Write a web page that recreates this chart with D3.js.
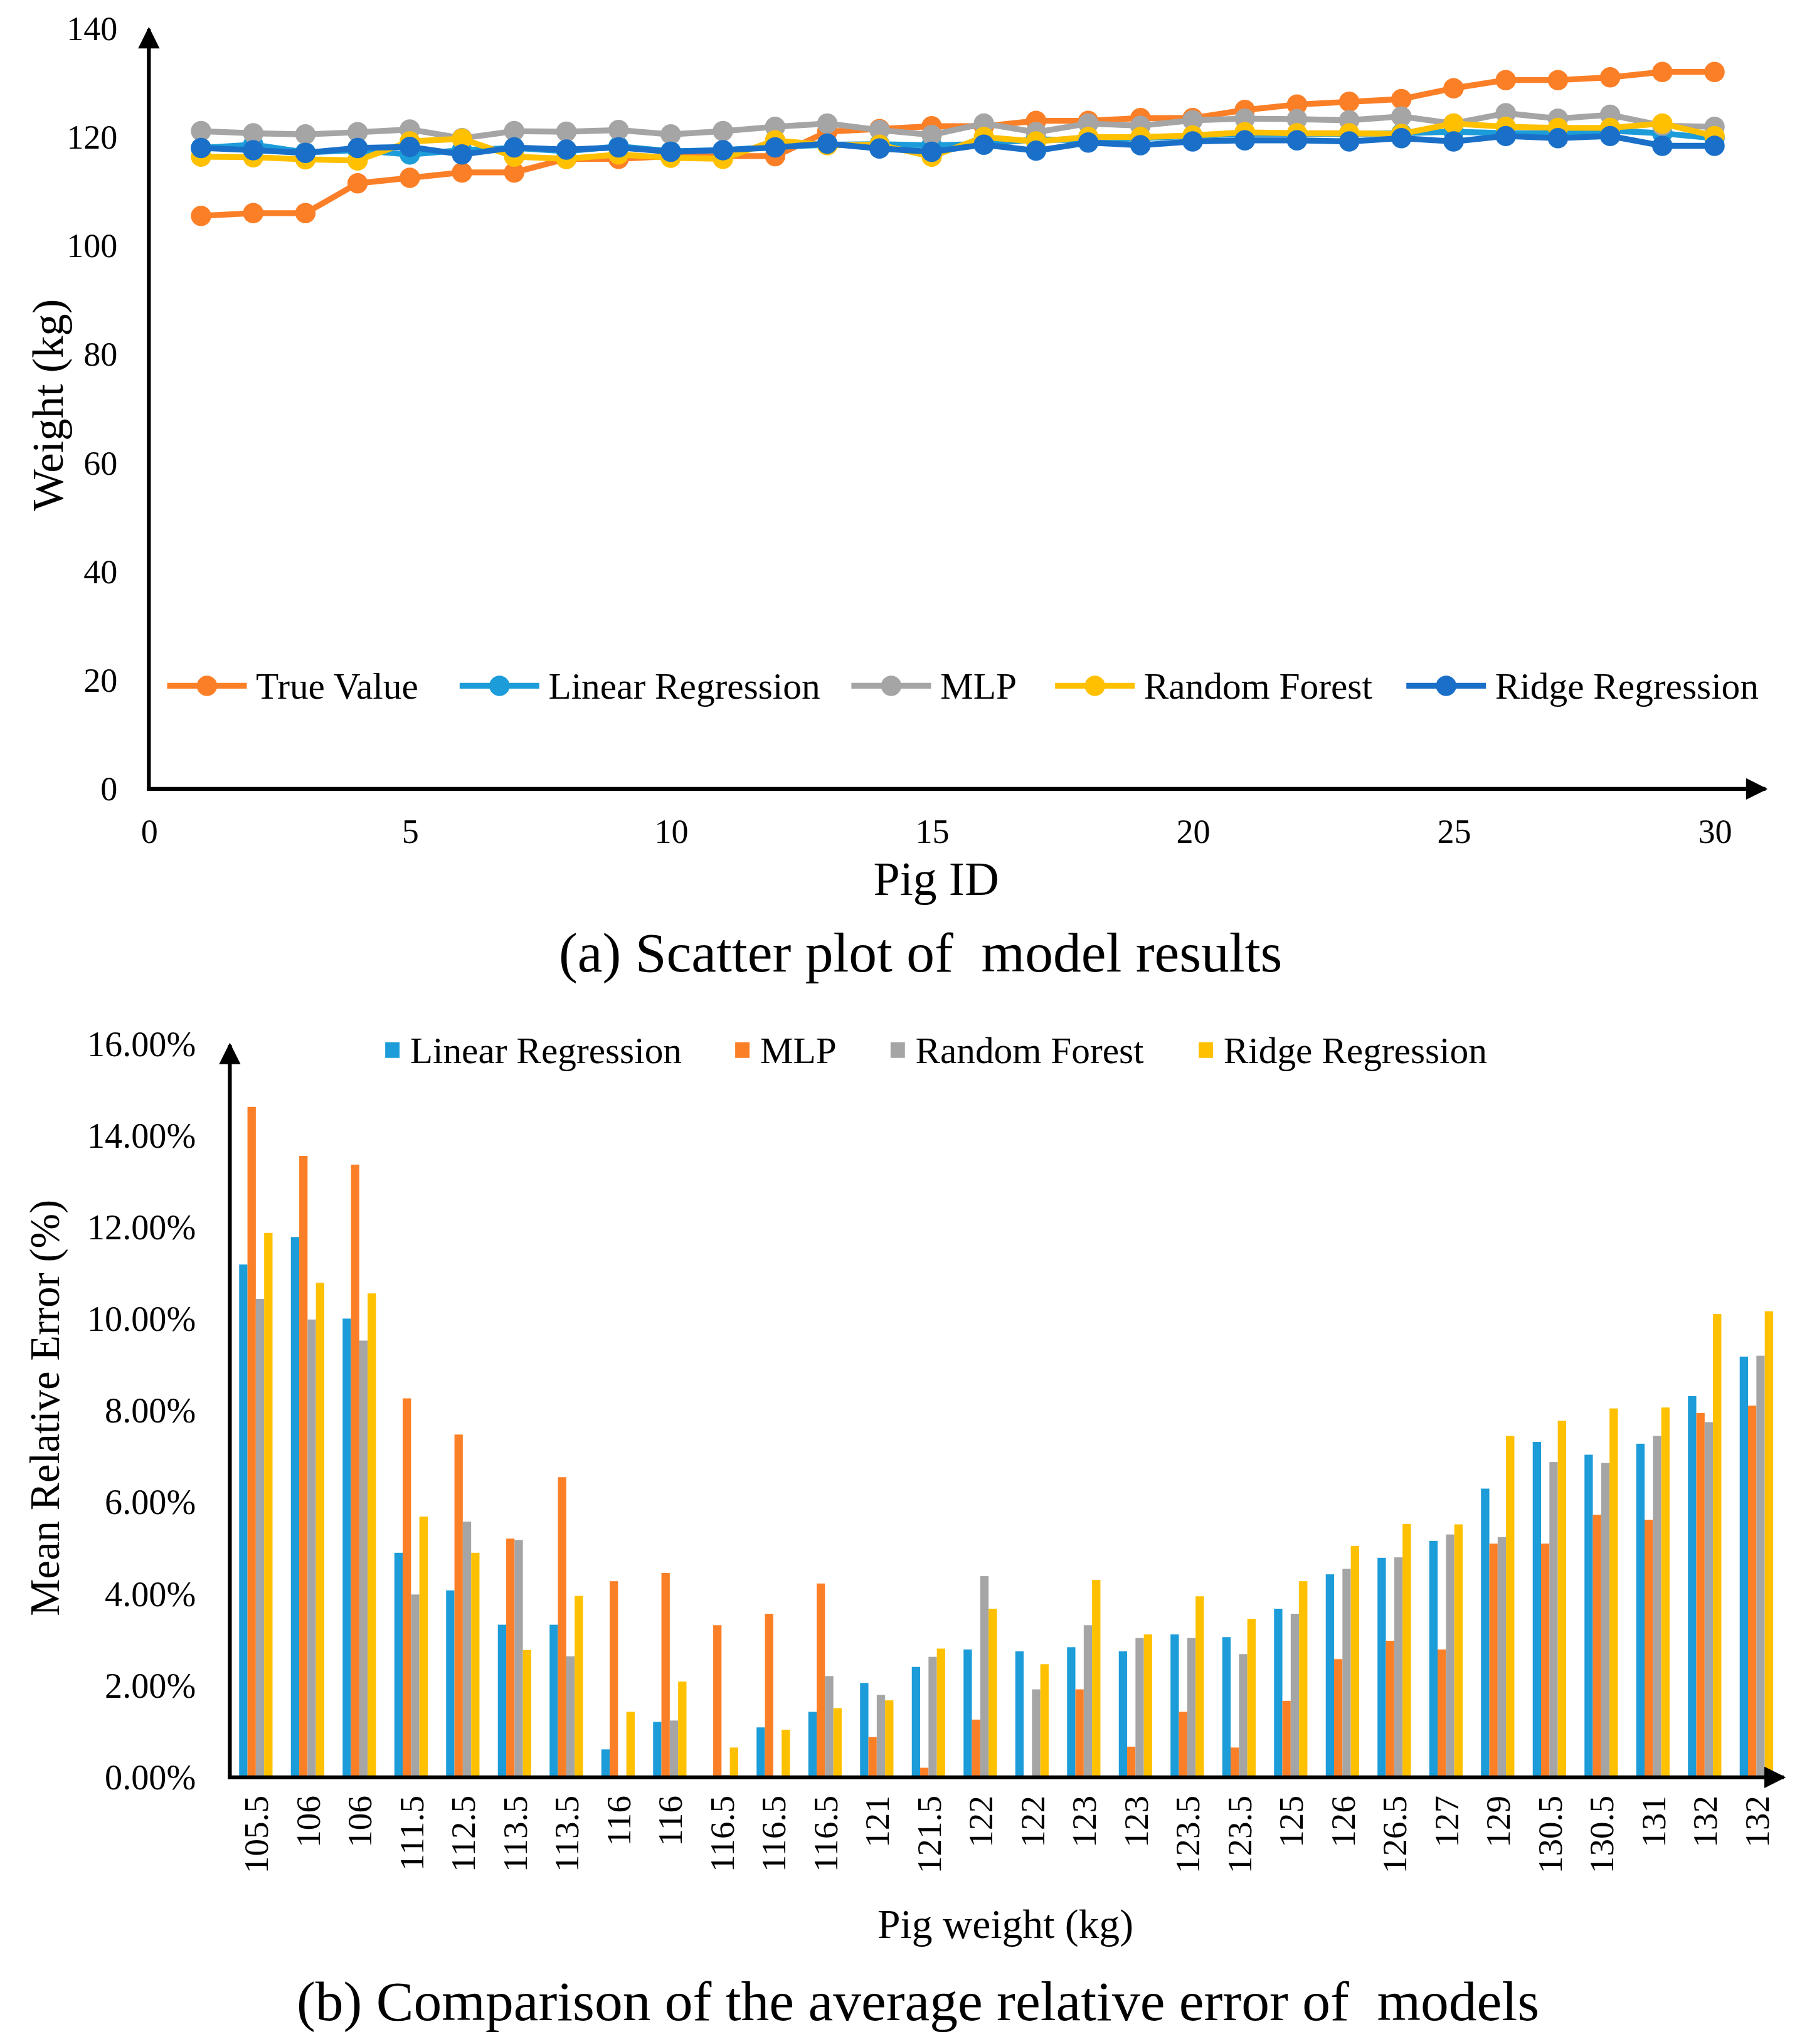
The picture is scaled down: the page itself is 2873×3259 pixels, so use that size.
<!DOCTYPE html>
<html>
<head>
<meta charset="utf-8">
<script src="https://cdn.jsdelivr.net/npm/d3@7"></script>
<style>
  html, body { margin: 0; padding: 0; background: #fff; }
  svg { display: block; font-family: 'Liberation Serif', 'Times New Roman', serif; }
</style>
</head>
<body>
<div id="chart"></div>
<script>
// top chart: predictions per pig
const pigIds = d3.range(1, 31)
const trueValue = [105.5, 106, 106, 111.5, 112.5, 113.5, 113.5, 116, 116, 116.5, 116.5, 116.5, 121, 121.5, 122, 122, 123, 123, 123.5, 123.5, 125, 126, 126.5, 127, 129, 130.5, 130.5, 131, 132, 132]
const linearReg = [118.0, 118.6, 117.2, 117.6, 116.8, 117.6, 118.0, 117.4, 118.3, 117.4, 117.6, 118.2, 118.6, 118.7, 118.5, 118.7, 119.6, 119.4, 119.8, 120.2, 120.6, 120.6, 120.6, 120.7, 121.0, 120.7, 120.7, 121.2, 120.7, 119.8]
const mlp = [121.1, 120.7, 120.5, 120.9, 121.4, 119.8, 121.1, 121.0, 121.3, 120.5, 121.1, 121.9, 122.5, 121.3, 120.4, 122.5, 120.9, 122.5, 122.1, 123.1, 123.4, 123.3, 123.1, 123.8, 122.5, 124.4, 123.4, 124.1, 122.1, 121.9]
const randomForest = [116.4, 116.3, 115.9, 115.7, 119.2, 119.7, 116.4, 116.0, 116.8, 116.2, 116.0, 119.4, 118.5, 118.6, 116.4, 120.0, 119.2, 120.0, 120.0, 120.3, 120.9, 120.7, 120.7, 120.6, 122.5, 121.9, 121.7, 121.7, 122.5, 120.2]
const ridgeReg = [118.0, 117.6, 117.1, 118.0, 118.2, 116.8, 118.1, 117.7, 118.1, 117.3, 117.6, 118.1, 118.8, 117.9, 117.3, 118.6, 117.5, 119.0, 118.5, 119.2, 119.4, 119.4, 119.2, 119.8, 119.2, 120.2, 119.8, 120.2, 118.4, 118.4]
const weightTicks = [0, 20, 40, 60, 80, 100, 120, 140]
const idTicks = [0, 5, 10, 15, 20, 25, 30]

// bottom chart: relative error (%) sorted by true weight
const weightLabels = ['105.5', '106', '106', '111.5', '112.5', '113.5', '113.5', '116', '116', '116.5', '116.5', '116.5', '121', '121.5', '122', '122', '123', '123', '123.5', '123.5', '125', '126', '126.5', '127', '129', '130.5', '130.5', '131', '132', '132']
const errLinear = [11.19, 11.79, 10.01, 4.90, 4.08, 3.33, 3.33, 0.61, 1.21, 0.02, 1.09, 1.43, 2.06, 2.41, 2.79, 2.75, 2.84, 2.75, 3.12, 3.06, 3.68, 4.43, 4.79, 5.16, 6.30, 7.32, 7.04, 7.28, 8.32, 9.18]
const errMlp = [14.63, 13.56, 13.37, 8.27, 7.48, 5.21, 6.55, 4.28, 4.46, 3.32, 3.57, 4.23, 0.88, 0.21, 1.26, 0.03, 1.92, 0.67, 1.43, 0.65, 1.67, 2.58, 2.98, 2.79, 5.10, 5.10, 5.73, 5.62, 7.95, 8.11]
const errForest = [10.44, 9.99, 9.53, 3.99, 5.58, 5.18, 2.64, 0.03, 1.24, 0.05, 0.04, 2.21, 1.80, 2.63, 4.39, 1.92, 3.32, 3.04, 3.04, 2.69, 3.57, 4.55, 4.80, 5.30, 5.24, 6.88, 6.86, 7.45, 7.75, 9.20]
const errRidge = [11.88, 10.79, 10.56, 5.69, 4.90, 2.78, 3.96, 1.43, 2.09, 0.65, 1.04, 1.51, 1.68, 2.81, 3.68, 2.47, 4.31, 3.12, 3.95, 3.46, 4.28, 5.05, 5.53, 5.52, 7.45, 7.78, 8.05, 8.07, 10.11, 10.17]
const errTicks = [0, 2, 4, 6, 8, 10, 12, 14, 16]

const W = 1380, H = 1565
const FONT = 'Liberation Serif'

const svg = d3.select('#chart')
  .append('svg')
  .attr('width', 2873)
  .attr('height', 3259)
  .attr('viewBox', `0 0 ${W} ${H}`)

// arrow head
svg.append('defs').append('marker')
  .attr('id', 'arrow')
  .attr('viewBox', '0 0 10 10')
  .attr('refX', 9).attr('refY', 5)
  .attr('markerWidth', 6.5).attr('markerHeight', 5.5)
  .attr('markerUnits', 'strokeWidth')
  .attr('orient', 'auto')
  .append('path')
  .attr('d', 'M0,0 L10,5 L0,10 Z')
  .attr('fill', '#000')

function axisArrow(x1, y1, x2, y2) {
  svg.append('line')
    .attr('x1', x1).attr('y1', y1)
    .attr('x2', x2).attr('y2', y2)
    .attr('stroke', '#000')
    .attr('stroke-width', 3)
    .attr('marker-end', 'url(#arrow)')
}

// ---------- (a) line chart ----------
const topSeries = [
  { name: 'True Value', values: trueValue, color: '#FB7F27' },
  { name: 'Linear Regression', values: linearReg, color: '#1C9CD8' },
  { name: 'MLP', values: mlp, color: '#A5A5A5' },
  { name: 'Random Forest', values: randomForest, color: '#FFC000' },
  { name: 'Ridge Regression', values: ridgeReg, color: '#1A70C8' }
]

const x1 = d3.scaleLinear().domain([0, 30]).range([114, 1313])
const y1 = d3.scaleLinear().domain([0, 140]).range([604, 21.6])

const gA = svg.append('g')

gA.append('g')
  .attr('transform', 'translate(114,0)')
  .call(d3.axisLeft(y1).tickValues(weightTicks).tickSize(0).tickPadding(24))
  .call(g => g.select('.domain').remove())
  .selectAll('text')
  .attr('font-family', FONT)
  .attr('font-size', 26)
  .attr('fill', '#000')

gA.append('g')
  .attr('transform', 'translate(0,604)')
  .call(d3.axisBottom(x1).tickValues(idTicks).tickSize(0).tickPadding(23))
  .call(g => g.select('.domain').remove())
  .selectAll('text')
  .attr('font-family', FONT)
  .attr('font-size', 26)
  .attr('fill', '#000')

axisArrow(114, 605, 114, 22)
axisArrow(112.5, 604, 1352, 604)

const line = d3.line()
  .x((d, i) => x1(pigIds[i]))
  .y(d => y1(d))

topSeries.forEach(s => {
  const g = gA.append('g')
  g.append('path')
    .attr('d', line(s.values))
    .attr('fill', 'none')
    .attr('stroke', s.color)
    .attr('stroke-width', 4.5)
    .attr('stroke-linejoin', 'round')
  g.selectAll('circle')
    .data(s.values)
    .join('circle')
    .attr('cx', (d, i) => x1(pigIds[i]))
    .attr('cy', d => y1(d))
    .attr('r', 7.8)
    .attr('fill', s.color)
})

// legend (a)
const legA = [128, 352, 652, 808, 1077]
topSeries.forEach((s, i) => {
  const g = gA.append('g').attr('transform', `translate(${legA[i]},525)`)
  g.append('line').attr('x1', 0).attr('x2', 61)
    .attr('stroke', s.color).attr('stroke-width', 4.5)
  g.append('circle').attr('cx', 30.5).attr('r', 7.8).attr('fill', s.color)
  g.append('text')
    .attr('x', 68).attr('dy', '0.35em')
    .attr('font-size', 28.5)
    .text(s.name)
})

gA.append('text')
  .attr('transform', 'translate(48,310) rotate(-90)')
  .attr('text-anchor', 'middle')
  .attr('font-size', 34)
  .text('Weight (kg)')

gA.append('text')
  .attr('x', 717).attr('y', 685)
  .attr('text-anchor', 'middle')
  .attr('font-size', 36.5)
  .text('Pig ID')

gA.append('text')
  .attr('x', 705).attr('y', 744)
  .attr('text-anchor', 'middle')
  .attr('font-size', 43)
  .attr('xml:space', 'preserve')
  .text('(a) Scatter plot of  model results')

// ---------- (b) grouped bars ----------
const barSeries = [
  { name: 'Linear Regression', values: errLinear, color: '#1C9CD8' },
  { name: 'MLP', values: errMlp, color: '#FB7F27' },
  { name: 'Random Forest', values: errForest, color: '#A5A5A5' },
  { name: 'Ridge Regression', values: errRidge, color: '#FFC000' }
]

const idx = d3.range(weightLabels.length)
const x2 = d3.scaleBand().domain(idx).range([176, 1365]).paddingInner(0.355).paddingOuter(0.18)
const xs = d3.scaleBand().domain(d3.range(barSeries.length)).range([0, x2.bandwidth()])
const y2 = d3.scaleLinear().domain([0, 16]).range([1361, 799.4])

const gB = svg.append('g')

barSeries.forEach((s, si) => {
  gB.append('g')
    .selectAll('rect')
    .data(s.values)
    .join('rect')
    .attr('x', (d, i) => x2(i) + xs(si))
    .attr('y', d => y2(d))
    .attr('width', xs.bandwidth())
    .attr('height', d => y2(0) - y2(d))
    .attr('fill', s.color)
})

gB.append('g')
  .attr('transform', 'translate(176,0)')
  .call(d3.axisLeft(y2).tickValues(errTicks).tickSize(0).tickPadding(26)
    .tickFormat(d => d.toFixed(2) + '%'))
  .call(g => g.select('.domain').remove())
  .selectAll('text')
  .attr('font-family', FONT)
  .attr('font-size', 27)
  .attr('fill', '#000')

gB.append('g')
  .attr('transform', 'translate(0,1361)')
  .call(d3.axisBottom(x2).tickSize(0).tickFormat(i => weightLabels[i]))
  .call(g => g.select('.domain').remove())
  .selectAll('text')
  .attr('font-family', FONT)
  .attr('font-size', 26.5)
  .attr('fill', '#000')
  .attr('text-anchor', 'end')
  .attr('transform', 'translate(0,14) rotate(-90)')
  .attr('x', 0).attr('y', 0)
  .attr('dy', '0.35em')

axisArrow(176, 1362.5, 176, 800)
axisArrow(174.5, 1361, 1366, 1361)

// legend (b)
const legB = [295, 563, 682, 918]
barSeries.forEach((s, i) => {
  const g = gB.append('g').attr('transform', `translate(${legB[i]},804)`)
  g.append('rect').attr('x', 0).attr('y', -6).attr('width', 11).attr('height', 12).attr('fill', s.color)
  g.append('text')
    .attr('x', 19).attr('dy', '0.35em')
    .attr('font-size', 28.5)
    .text(s.name)
})

gB.append('text')
  .attr('transform', 'translate(45,1078) rotate(-90)')
  .attr('text-anchor', 'middle')
  .attr('font-size', 32)
  .text('Mean Relative Error (%)')

gB.append('text')
  .attr('x', 770).attr('y', 1484)
  .attr('text-anchor', 'middle')
  .attr('font-size', 31.5)
  .text('Pig weight (kg)')

gB.append('text')
  .attr('x', 703).attr('y', 1547)
  .attr('text-anchor', 'middle')
  .attr('font-size', 43)
  .attr('xml:space', 'preserve')
  .text('(b) Comparison of the average relative error of  models')
</script>
</body>
</html>
